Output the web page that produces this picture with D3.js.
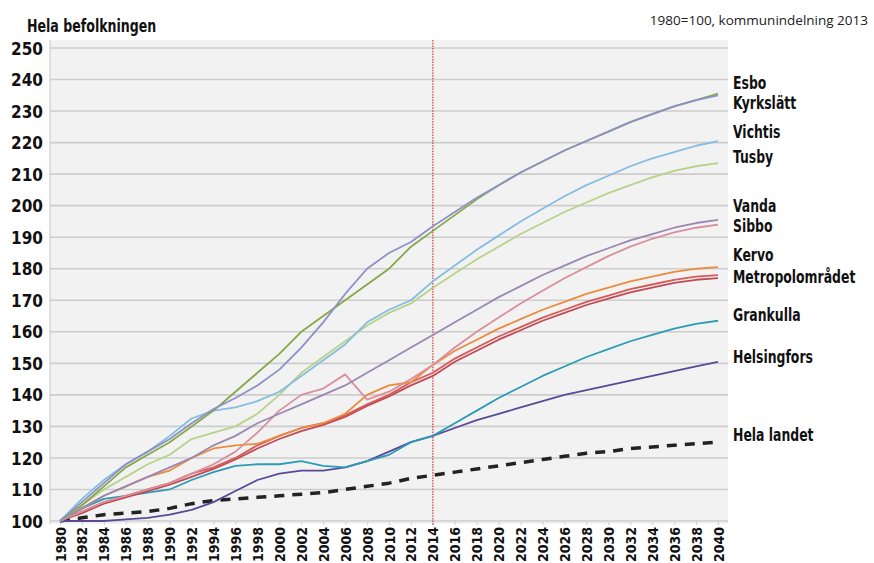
<!DOCTYPE html>
<html>
<head>
<meta charset="utf-8">
<script src="https://cdn.jsdelivr.net/npm/d3@7/dist/d3.min.js"></script>
<style>
  html, body { margin: 0; padding: 0; background: #fff; }
  svg { display: block; }
  .tick-y { font-family: "DejaVu Sans Condensed", "DejaVu Sans", sans-serif; font-stretch: condensed; font-weight: bold; font-size: 17px; fill: #111; }
  .tick-x { font-family: "DejaVu Sans Condensed", "DejaVu Sans", sans-serif; font-stretch: condensed; font-weight: bold; font-size: 14px; fill: #111; }
  .lbl { font-family: "DejaVu Sans Condensed", "DejaVu Sans", sans-serif; font-stretch: condensed; font-weight: bold; font-size: 17.5px; fill: #111; }
  .note { font-family: "Open Sans", sans-serif; font-size: 13.5px; fill: #222; }
</style>
</head>
<body>
<svg id="chart" width="874" height="563"></svg>
<script>
const years = d3.range(1980, 2041, 2);
const yTicks = d3.range(100, 251, 10);
const xTicks = d3.range(1980, 2041, 2);
const markerYear = 2014;

const esbo        = [100,105,111,117,121,125,130,135,141,147,153,160,165,170,175,180,187,192,197,202,206.5,210.5,214,217.5,220.5,223.5,226.5,229,231.5,233.5,235.5];
const kyrkslatt   = [100,106,112,118,122,126,131,135.5,139,143,148,155,163,172,180,185,188.5,193.5,198,202.5,206.5,210.5,214,217.5,220.5,223.5,226.5,229,231.5,233.5,235];
const vichtis     = [100,107,113,118,122,127,132.5,135,136,138,141,146,151,156,163,167,170,176,181,186,190.5,195,199,203,206.5,209.5,212.5,215,217,219,220.5];
const tusby       = [100,105,110,114,118,121,126,128,130,134,140,147,152,157,162,166,169,174,178.5,183,187,191,194.5,198,201,204,206.5,209,211,212.5,213.5];
const vanda       = [100,104,108,111,114,117,120,124,127,131,134,137,140,143,147,151,155,159,163,167,171,174.5,178,181,184,186.5,189,191,193,194.5,195.5];
const sibbo       = [100,103,106,108,110,112,115,118,122,128,135,140,142,146.5,138.5,141,145,149.5,155,160,164.5,169,173,177,180.5,184,187,189.5,191.5,193,194];
const kervo       = [100,104,108,111,114,116,120,123,124,124.5,127,129.5,131,134,140,143,144,149.5,154,157.5,161,164,167,169.5,172,174,176,177.5,179,180,180.5];
const metropol    = [100,103,106,108,110,112,115,117,120,124,127,129.5,131,133.5,137,140,144,147,151.5,155,158.5,161.5,164.5,167,169.5,171.5,173.5,175,176.5,177.5,178];
const metropol2   = [100,102.5,105.5,107.5,109.5,111.5,114,116.5,119.5,123,126,128.5,130.5,133,136.5,139.5,143,146,150.5,154,157.5,160.5,163.5,166,168.5,170.5,172.5,174,175.5,176.5,177];
const grankulla   = [100,104,107,108,109,110,113,115.5,117.5,118,118,119,117.5,117,119,121,125,127,131,135,139,142.5,146,149,152,154.5,157,159,161,162.5,163.5];
const helsingfors = [100,100,100,100.5,101,102,103.5,106,109.5,113,115,116,116,117,119,122,125,127,129.5,132,134,136,138,140,141.5,143,144.5,146,147.5,149,150.5];
const helaLandet  = [100,101,102,102.5,103,104,105.5,106.5,107,107.5,108,108.5,109,110,111,112,113.5,114.5,115.5,116.5,117.5,118.5,119.5,120.5,121.5,122,123,123.5,124,124.5,125];

const seriesNames  = ["Esbo","Kyrkslätt","Vichtis","Tusby","Vanda","Sibbo","Kervo","Metropolområdet","Metropol2","Grankulla","Helsingfors","Hela landet"];
const seriesValues = [esbo,kyrkslatt,vichtis,tusby,vanda,sibbo,kervo,metropol,metropol2,grankulla,helsingfors,helaLandet];
const seriesColors = ["#86a848","#8e90c8","#85bde0","#b8d28a","#9a88b2","#d98f9c","#ee8a3c","#d65a55","#c04a55","#2b9cb6","#5a4a96","#222222"];
const labelNames   = ["Esbo","Kyrkslätt","Vichtis","Tusby","Vanda","Sibbo","Kervo","Metropolområdet","Grankulla","Helsingfors","Hela landet"];
const labelValues  = [239,232.5,223.5,215.5,200,193.5,184.5,177.5,165.5,152,127.5];

const svg = d3.select("#chart");
const x = d3.scaleLinear().domain([1980, 2040]).range([60, 718]);
const y = d3.scaleLinear().domain([100, 250]).range([521, 48]);

// plot background
svg.append("rect").attr("x", 50).attr("y", 40).attr("width", 678).attr("height", 484).attr("fill", "#f2f2f2");

// gridlines
svg.append("g").selectAll("line").data(yTicks).join("line")
  .attr("x1", 50).attr("x2", 728)
  .attr("y1", d => y(d)).attr("y2", d => y(d))
  .attr("stroke", "#cdcdcd").attr("stroke-width", 1.6);

// left axis line
svg.append("line").attr("x1", 50).attr("x2", 50).attr("y1", 40).attr("y2", 524).attr("stroke", "#c8c8c8").attr("stroke-width", 1);

// y axis labels
const yAxis = d3.axisLeft(y).tickValues(yTicks).tickSize(0).tickPadding(0);
const gy = svg.append("g").attr("transform", "translate(43,0)").call(yAxis);
gy.select(".domain").remove();
gy.selectAll("text").attr("class", "tick-y").attr("dy", "0.36em").attr("font-family", null).attr("font-size", null);

// x axis labels (rotated)
const xAxis = d3.axisBottom(x).tickValues(xTicks).tickFormat(d3.format("d")).tickSize(3);
const gx = svg.append("g").attr("transform", "translate(0,522)").call(xAxis);
gx.select(".domain").remove();
gx.selectAll("line").attr("stroke", "#d0d0d0");
gx.selectAll("text").attr("class", "tick-x").attr("font-family", null).attr("font-size", null)
  .attr("transform", "rotate(-90)").attr("x", -5).attr("y", 0).attr("dy", "0.36em").attr("text-anchor", "end");

// marker line for 2014
svg.append("line").attr("x1", x(markerYear)).attr("x2", x(markerYear)).attr("y1", 40).attr("y2", 526)
  .attr("stroke", "#d8424a").attr("stroke-width", 1.3).attr("stroke-dasharray", "1.5,1.2");

// lines
const line = d3.line().x((d, i) => x(years[i])).y(d => y(d));
const order = [11,10,9,8,7,6,5,4,3,2,0,1];
svg.append("g").selectAll("path").data(order).join("path")
  .attr("d", i => line(seriesValues[i]))
  .attr("fill", "none")
  .attr("stroke", i => seriesColors[i])
  .attr("stroke-width", i => i === 11 ? 3.5 : 1.8)
  .attr("stroke-dasharray", i => i === 11 ? "10,8" : null)
  .attr("stroke-linejoin", "round");

// right labels
svg.append("g").selectAll("text").data(labelNames).join("text")
  .attr("class", "lbl")
  .attr("transform", (d, i) => `translate(733,${y(labelValues[i])}) scale(0.79,1)`)
  .attr("dy", "0.36em")
  .text(d => d);

// title and note
svg.append("text").attr("class", "lbl").attr("transform", "translate(27,32) scale(0.8,1)").text("Hela befolkningen");
svg.append("text").attr("class", "note").attr("x", 868).attr("y", 25).attr("text-anchor", "end").text("1980=100, kommunindelning 2013");
</script>
</body>
</html>
